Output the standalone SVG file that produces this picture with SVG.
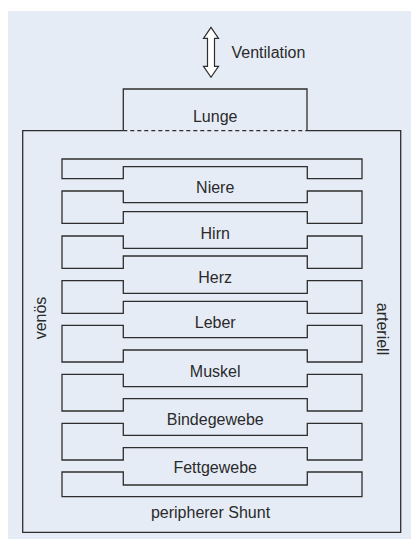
<svg xmlns="http://www.w3.org/2000/svg" width="411" height="539" viewBox="0 0 411 539">
<style>
.ln{fill:none;stroke:#2e2e2e;stroke-width:1.3;stroke-linejoin:miter}
.t{font-family:"Liberation Sans",Arial,sans-serif;font-size:16px;fill:#2a2a2a}
.c{text-anchor:middle}
</style>
<rect x="8" y="11" width="403" height="528" fill="#e6ecf6"/>
<g id="ventilation">
<path d="M211,27.3 L218.5,38.3 L214.5,38.3 L214.5,66.3 L218.5,66.3 L211,77.3 L203.5,66.3 L207.5,66.3 L207.5,38.3 L203.5,38.3 Z" fill="#fff" stroke="#2e2e2e" stroke-width="1.2" stroke-linejoin="miter"/>
<text class="t" x="231.5" y="58.3">Ventilation</text>
</g>
<g id="frame">
<path class="ln" d="M123.3,130.7 L22.7,130.7 L22.7,532.3 L400.7,532.3 L400.7,130.7 L307,130.7 M123.3,130.7 L123.3,89 L307,89 L307,130.7"/>
</g>
<g id="lunge">
<line x1="123.3" y1="130.7" x2="307" y2="130.7" stroke="#2e2e2e" stroke-width="1.2" stroke-dasharray="4,3"/>
<text class="t c" x="215.2" y="121.7">Lunge</text>
</g>
<g id="walls">
<polygon class="ln" points="62,159 362,159 362,178.7 307.3,178.7 307.3,166.7 123.3,166.7 123.3,178.7 62,178.7"/>
<polygon class="ln" points="62,191 123.3,191 123.3,202.7 307.3,202.7 307.3,191 362,191 362,223.3 307.3,223.3 307.3,211.7 123.3,211.7 123.3,223.3 62,223.3"/>
<polygon class="ln" points="62,236 123.3,236 123.3,248.3 307.3,248.3 307.3,236 362,236 362,268.3 307.3,268.3 307.3,256 123.3,256 123.3,268.3 62,268.3"/>
<polygon class="ln" points="62,280.7 123.3,280.7 123.3,293.3 307.3,293.3 307.3,280.7 362,280.7 362,313.3 307.3,313.3 307.3,301.3 123.3,301.3 123.3,313.3 62,313.3"/>
<polygon class="ln" points="62,325.3 123.3,325.3 123.3,337.7 307.3,337.7 307.3,325.3 362,325.3 362,362 307.3,362 307.3,350 123.3,350 123.3,362 62,362"/>
<polygon class="ln" points="62,374.3 123.3,374.3 123.3,386.7 307.3,386.7 307.3,374.3 362,374.3 362,411 307.3,411 307.3,398.7 123.3,398.7 123.3,411 62,411"/>
<polygon class="ln" points="62,423.3 123.3,423.3 123.3,435.3 307.3,435.3 307.3,423.3 362,423.3 362,460 307.3,460 307.3,447.7 123.3,447.7 123.3,460 62,460"/>
<polygon class="ln" points="62,472 123.3,472 123.3,485 307.3,485 307.3,472 362,472 362,496.7 62,496.7"/>
</g>
<g id="niere"><text class="t c" x="215.2" y="193">Niere</text></g>
<g id="hirn"><text class="t c" x="215.2" y="239">Hirn</text></g>
<g id="herz"><text class="t c" x="215.2" y="283.3">Herz</text></g>
<g id="leber"><text class="t c" x="215.2" y="328">Leber</text></g>
<g id="muskel"><text class="t c" x="215.2" y="377.3">Muskel</text></g>
<g id="bindegewebe"><text class="t c" x="215.2" y="425">Bindegewebe</text></g>
<g id="fettgewebe"><text class="t c" x="215.2" y="472.7">Fettgewebe</text></g>
<g id="shunt"><text class="t c" x="210.5" y="518.3">peripherer Shunt</text></g>
<g id="venoes"><text class="t c" transform="translate(45.5,318) rotate(-90)">venös</text></g>
<g id="arteriell"><text class="t c" transform="translate(377,329) rotate(90)">arteriell</text></g>
</svg>
